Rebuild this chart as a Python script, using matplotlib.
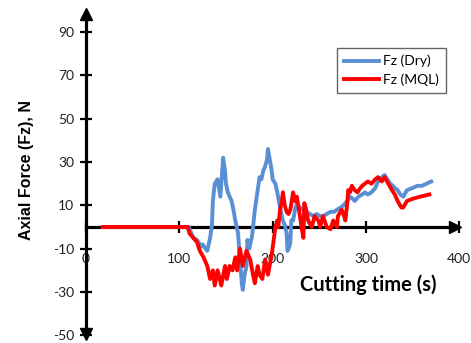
import matplotlib
matplotlib.use("Agg")
import matplotlib.pyplot as plt

# Axial force vs. cutting time, dry and MQL drilling
dry_time = [18, 40, 60, 80, 100, 110, 112, 115, 119, 122, 124, 125, 128, 130, 133, 135, 136, 138,
            141, 144, 146, 147, 149, 150, 152, 154, 156, 158, 160, 163, 165, 167, 168, 170, 172,
            173, 175, 176, 178, 179, 181, 183, 186, 188, 190, 192, 194, 195, 197, 199, 200, 203,
            205, 208, 211, 213, 215, 216, 218, 219, 220, 222, 224, 226, 229, 233, 236, 240, 244,
            247, 251, 254, 258, 262, 266, 269, 273, 276, 280, 283, 286, 288, 292, 296, 299, 302,
            306, 310, 313, 317, 320, 323, 326, 329, 331, 334, 337, 340, 344, 350, 355, 360, 365,
            370]
dry_force = [0, 0, 0, 0, 0, 0, -2, -5, -6, -8, -9, -8, -10, -11, -5, 1, 12, 20,
             22, 14, 26, 32, 26, 20, 16, 14, 12, 8, 3, -3, -15, -26, -29, -22, -18,
             -6, -10, -8, -4, 0, 8, 14, 23, 22, 26, 28, 31, 36, 31, 26, 22, 20,
             16, 9, 3, 1, -3, -11, -9, -7, 3, 3, 8, 11, 9, 8, 7, 6, 5,
             6, 5, 5, 6, 7, 7, 8, 9, 10, 12, 14, 13, 12, 14, 15, 16, 15,
             16, 18, 21, 23, 24, 22, 20, 19, 18, 17, 15, 14, 17, 18, 19, 19, 20,
             21]

mql_time = [18, 40, 60, 80, 100, 109, 111, 115, 119, 122, 126, 130, 133, 136, 138, 141, 145, 149,
            151, 154, 157, 160, 162, 165, 168, 172, 176, 179, 181, 184, 186, 189, 192, 195, 199,
            203, 205, 206, 208, 210, 211, 213, 215, 217, 219, 222, 224, 226, 229, 231, 233, 234,
            236, 238, 242, 245, 249, 251, 254, 258, 262, 265, 269, 270, 274, 276, 278, 280, 281,
            283, 285, 288, 291, 294, 296, 299, 302, 306, 310, 313, 317, 320, 324, 328, 331, 334,
            338, 340, 344, 350, 358, 368]
mql_force = [0, 0, 0, 0, 0, 0, -3, -5, -7, -11, -14, -18, -24, -20, -27, -20, -27, -18,
             -24, -18, -20, -14, -20, -10, -18, -11, -15, -22, -26, -18, -22, -24, -15, -22, -13,
             0, 3, 0, 8, 12, 16, 10, 7, 6, 8, 16, 12, 14, 6, 0, -5, 11,
             8, 3, 0, 5, 3, 0, 5, 0, -1, 3, 0, 5, 8, 6, 3, 11, 17,
             16, 19, 17, 16, 18, 19, 20, 21, 20, 22, 23, 21, 23, 20, 17, 15, 12,
             9, 9, 12, 13, 14, 15]

x_ticks = [0, 100, 200, 300, 400]
y_ticks = [-50, -30, -10, 10, 30, 50, 70, 90]

plt.rcParams["font.family"] = ["Lato", "DejaVu Sans"]
plt.rcParams["axes.unicode_minus"] = False

W, H = 471, 343
fig = plt.figure(figsize=(W / 100, H / 100), dpi=100)
ax = fig.add_axes([0, 0, 1, 1])

# pixel scale: x=0 at 86 px, 0.933 px per second; y=0 at 227 px, 2.167 px per newton
x0, sx = 86, 0.933
y0, sy = 227, 2.167
ax.set_xlim(-x0 / sx, (W - x0) / sx)
ax.set_ylim((y0 - H) / sy, y0 / sy)

ax.plot(dry_time, dry_force, color="#5a8fd5", lw=2.8, label="Fz (Dry)", zorder=3,
        solid_joinstyle="round")
ax.plot(mql_time, mql_force, color="#ff0000", lw=2.8, label="Fz (MQL)", zorder=4,
        solid_joinstyle="round")

for side in ("top", "right"):
    ax.spines[side].set_visible(False)
ax.spines["left"].set_position(("data", 0))
ax.spines["bottom"].set_position(("data", 0))
ax.spines["left"].set_bounds(-49, 98)
ax.spines["bottom"].set_bounds(0, 396)
for side in ("left", "bottom"):
    ax.spines[side].set_linewidth(2.3)
    ax.spines[side].set_zorder(2)

# arrowheads on the axes
ax.plot([0], [98.5], marker="^", ms=8, color="black", clip_on=False, zorder=5)
ax.plot([0], [-49.5], marker="v", ms=8, color="black", clip_on=False, zorder=5)
ax.plot([396], [0], marker=">", ms=8, color="black", clip_on=False, zorder=5)

ax.set_xticks(x_ticks)
ax.set_yticks(y_ticks)
ax.tick_params(axis="both", direction="inout", length=9, width=1.6, colors="black",
               labelsize=10)
ax.tick_params(axis="x", pad=14)
ax.tick_params(axis="y", pad=4)
for lbl in ax.get_xticklabels() + ax.get_yticklabels():
    lbl.set_color("#222222")

ax.set_xlabel("Cutting time (s)", fontsize=14.5, fontweight="bold")
ax.xaxis.set_label_coords(368 / W, 1 - 285 / H)
ax.xaxis.label.set_va("center")
ax.set_ylabel("Axial Force (Fz), N", fontsize=11.5, fontweight="bold",
              family=["Liberation Sans", "DejaVu Sans"])
ax.yaxis.set_label_coords(26 / W, 1 - 170 / H)
ax.yaxis.label.set_va("center")

leg = ax.legend(loc="upper left", bbox_to_anchor=(337 / W, 1 - 48 / H), frameon=True,
                fancybox=False, fontsize=10, handlelength=2.5, handletextpad=0.3,
                borderpad=0.5, labelspacing=0.45, borderaxespad=0)
leg.get_frame().set_edgecolor("#404040")
leg.get_frame().set_linewidth(1.0)

fig.savefig("out.png", dpi=100)
